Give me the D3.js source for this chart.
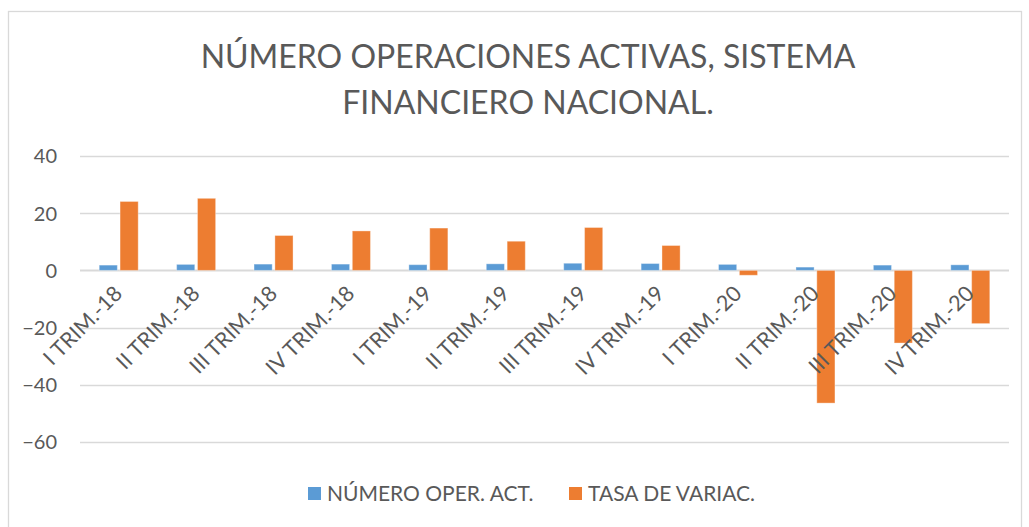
<!DOCTYPE html>
<html>
<head>
<meta charset="utf-8">
<script src="https://cdn.jsdelivr.net/npm/d3@7"></script>
<style>
  html,body{margin:0;padding:0;background:#fff}
  svg{display:block;font-family:Lato,"Open Sans",sans-serif}
</style>
</head>
<body>
<div id="chart"></div>
<script>
// categories and series
const categories=["I TRIM.-18","II TRIM.-18","III TRIM.-18","IV TRIM.-18","I TRIM.-19","II TRIM.-19","III TRIM.-19","IV TRIM.-19","I TRIM.-20","II TRIM.-20","III TRIM.-20","IV TRIM.-20"];
const numeroOper=[1.85,2.1,2.2,2.2,2.0,2.3,2.5,2.4,2.1,1.15,1.85,1.95];
const tasaVariac=[24.1,25.2,12.2,13.8,14.8,10.2,15.0,8.7,-1.7,-46.4,-25.4,-18.6];
const seriesNames=["NÚMERO OPER. ACT.","TASA DE VARIAC."];
const yTicks=[40,20,0,-20,-40,-60];
const titleLines=["NÚMERO OPERACIONES ACTIVAS, SISTEMA","FINANCIERO NACIONAL."];

const W=1029,H=527;
const colors=["#5B9BD5","#ED7D31"];
const txt="#595959";

const svg=d3.select("#chart").append("svg").attr("width",W).attr("height",H);

// chart frame
svg.append("rect").attr("x",8.5).attr("y",11.5).attr("width",1013).attr("height",530)
  .attr("fill","#fff").attr("stroke","#d9d9d9").attr("stroke-width",1.3);

// title
svg.append("g").selectAll("text").data(titleLines).enter().append("text")
  .attr("x",528).attr("y",(d,i)=>68+i*46)
  .attr("text-anchor","middle").attr("font-size","32px").attr("fill",txt)
  .text(d=>d);

const x=d3.scaleBand().domain(categories).range([80,1009]);
const xs=d3.scaleBand().domain(seriesNames).range([0,39]).paddingInner(0.13);
const y=d3.scaleLinear().domain([-60,40]).range([442,156]);

// grid
svg.append("g").selectAll("line").data(yTicks).enter().append("line")
  .attr("x1",80).attr("x2",1009)
  .attr("y1",d=>Math.round(y(d))+0.5).attr("y2",d=>Math.round(y(d))+0.5)
  .attr("stroke","#d9d9d9").attr("stroke-width",d=>d===0?2:1.5);

// y axis labels
const yAxis=d3.axisLeft(y).tickValues(yTicks).tickSize(0).tickPadding(0);
const yg=svg.append("g").attr("transform","translate(57,0)").call(yAxis);
yg.select(".domain").remove();
yg.selectAll("text").attr("font-size","20px").attr("fill",txt).attr("font-family","Lato,'Open Sans',sans-serif").attr("dy","0.34em");

// bars
const allSeries=[numeroOper,tasaVariac];
const off=(x.bandwidth()-39)/2;
allSeries.forEach((vals,si)=>{
  svg.append("g").selectAll("rect").data(vals).enter().append("rect")
    .attr("x",(d,i)=>x(categories[i])+off+xs(seriesNames[si]))
    .attr("width",xs.bandwidth())
    .attr("y",d=>y(Math.max(0,d)))
    .attr("height",d=>Math.abs(y(d)-y(0)))
    .attr("fill",colors[si])
    .attr("stroke","#fff").attr("stroke-opacity",0.35).attr("stroke-width",1);
});

// x labels, rotated
svg.append("g").selectAll("text").data(categories).enter().append("text")
  .attr("transform",d=>"translate("+(x(d)+x.bandwidth()/2-6)+",284) rotate(-45)")
  .attr("text-anchor","end").attr("dy","0.72em")
  .attr("font-size","21.5px").attr("fill",txt)
  .text(d=>d);

// legend
const legX=[308,569];
const leg=svg.append("g").selectAll("g").data(seriesNames).enter().append("g")
  .attr("transform",(d,i)=>"translate("+legX[i]+",487)");
leg.append("rect").attr("width",13).attr("height",13).attr("fill",(d,i)=>colors[i]);
leg.append("text").attr("x",19).attr("y",14).attr("font-size","21px").attr("fill",txt).text(d=>d);
</script>
</body>
</html>
